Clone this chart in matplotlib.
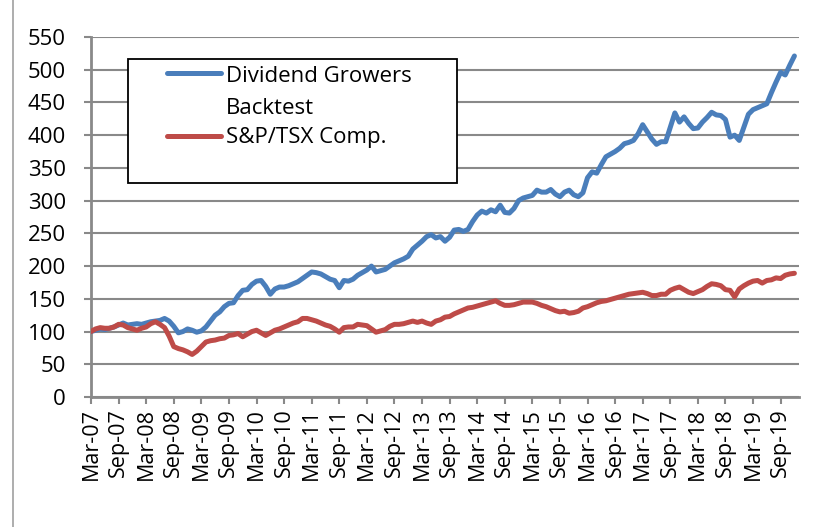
import matplotlib
matplotlib.use("Agg")
import matplotlib.pyplot as plt
from matplotlib.lines import Line2D
from matplotlib.patches import Rectangle

# monthly index values, Mar-07 .. Dec-19
growers = [100, 102, 104, 103, 105, 107, 110, 113, 110, 111,
           112, 111, 113, 115, 116, 117, 120, 116, 108, 98,
           100, 104, 102, 99, 101, 107, 116, 125, 130, 138,
           143, 144, 155, 163, 164, 172, 177, 178, 169, 157,
           165, 168, 168, 170, 173, 176, 181, 186, 191, 190,
           188, 184, 180, 178, 167, 178, 177, 180, 186, 190,
           194, 200, 191, 193, 195, 200, 205, 208, 211, 215,
           226, 232, 238, 245, 248, 243, 245, 238, 244, 255,
           256, 253, 256, 268, 278, 284, 281, 286, 283, 293,
           282, 281, 288, 300, 304, 306, 308, 316, 313, 313,
           317, 310, 306, 313, 316, 309, 306, 312, 335, 344,
           342, 355, 367, 371, 375, 380, 387, 389, 392, 402,
           416, 405, 394, 386, 390, 390, 412, 434, 420, 428,
           418, 410, 411, 420, 427, 435, 431, 430, 424, 397,
           400, 392, 412, 432, 439, 442, 445, 448, 465, 481,
           496, 492, 507, 521]

tsx = [100, 104, 106, 105, 105, 107, 111, 110, 106, 104,
       102, 105, 107, 112, 115, 111, 106, 93, 77, 74,
       72, 69, 65, 70, 77, 84, 86, 87, 89, 90,
       94, 95, 97, 92, 96, 100, 102, 98, 94, 98,
       102, 104, 107, 110, 113, 115, 120, 120, 118, 116,
       113, 110, 108, 104, 99, 106, 107, 107, 111, 110,
       109, 104, 99, 101, 103, 108, 111, 111, 112, 114,
       116, 114, 116, 113, 111, 116, 118, 122, 123, 127,
       130, 133, 136, 137, 139, 141, 143, 145, 147, 143,
       140, 140, 141, 143, 145, 145, 145, 143, 140, 138,
       135, 132, 130, 131, 128, 129, 131, 136, 138, 141,
       144, 146, 147, 149, 151, 153, 155, 157, 158, 159,
       160, 158, 155, 155, 157, 157, 163, 166, 168, 164,
       160, 158, 161, 164, 169, 173, 172, 170, 164, 163,
       153, 165, 170, 174, 177, 178, 174, 178, 179, 182,
       181, 186, 188, 189]

tick_labels = ['Mar-07', 'Sep-07', 'Mar-08', 'Sep-08', 'Mar-09', 'Sep-09',
               'Mar-10', 'Sep-10', 'Mar-11', 'Sep-11', 'Mar-12', 'Sep-12',
               'Mar-13', 'Sep-13', 'Mar-14', 'Sep-14', 'Mar-15', 'Sep-15',
               'Mar-16', 'Sep-16', 'Mar-17', 'Sep-17', 'Mar-18', 'Sep-18',
               'Mar-19', 'Sep-19']

plt.rcParams['font.family'] = ['Open Sans', 'DejaVu Sans']

W, H = 814, 527
fig = plt.figure(figsize=(W / 100, H / 100), dpi=100)
ax = fig.add_axes([91 / W, 1 - 397 / H, (799 - 91) / W, (397 - 37) / H])

grey = '#898989'
blue, red = '#4a7ebb', '#be4b48'
months = list(range(len(growers)))
ax.plot(months, growers, color=blue, lw=3.6, solid_capstyle='round', zorder=3)
ax.plot(months, tsx, color=red, lw=3.6, solid_capstyle='round', zorder=4)

ax.set_xlim(0, 154)
ax.set_ylim(0, 550)
ax.set_yticks(range(0, 551, 50))
ax.set_xticks(range(0, 6 * len(tick_labels), 6))
ax.set_xticklabels(tick_labels, rotation=90)
ax.grid(axis='y', color=grey, lw=1.5)
ax.set_axisbelow(True)
for s in ['top', 'right']:
    ax.spines[s].set_visible(False)
for s in ['left', 'bottom']:
    ax.spines[s].set_color(grey)
    ax.spines[s].set_linewidth(2)
ax.tick_params(axis='y', length=5, width=1.5, color=grey, pad=13, labelsize=16)
ax.tick_params(axis='x', length=5, width=1.5, color=grey, pad=3, labelsize=15.5)

# outer chart border (left edge only visible)
fig.add_artist(Line2D([13 / W, 13 / W], [0, 1], color='#a0a0a0', lw=1.2))

# legend box, drawn by hand so the handle sits on the first text line
fig.add_artist(Rectangle((128 / W, 1 - 183 / H), (457 - 128) / W, (183 - 59) / H,
                         facecolor='white', edgecolor='black', lw=1.3,
                         transform=fig.transFigure, zorder=5))
fig.add_artist(Line2D([167 / W, 221 / W], [1 - 73.5 / H] * 2, color=blue,
                      lw=3.6, solid_capstyle='round', zorder=6))
fig.add_artist(Line2D([167 / W, 221 / W], [1 - 136 / H] * 2, color=red,
                      lw=3.6, solid_capstyle='round', zorder=6))
fig.text(226 / W, 1 - 81.5 / H, 'Dividend Growers', fontsize=16, va='baseline', zorder=7)
fig.text(226 / W, 1 - 113.5 / H, 'Backtest', fontsize=16, va='baseline', zorder=7)
fig.text(226 / W, 1 - 143 / H, 'S&P/TSX Comp.', fontsize=16, va='baseline', zorder=7)

fig.savefig('out.png', dpi=100, facecolor='white')
